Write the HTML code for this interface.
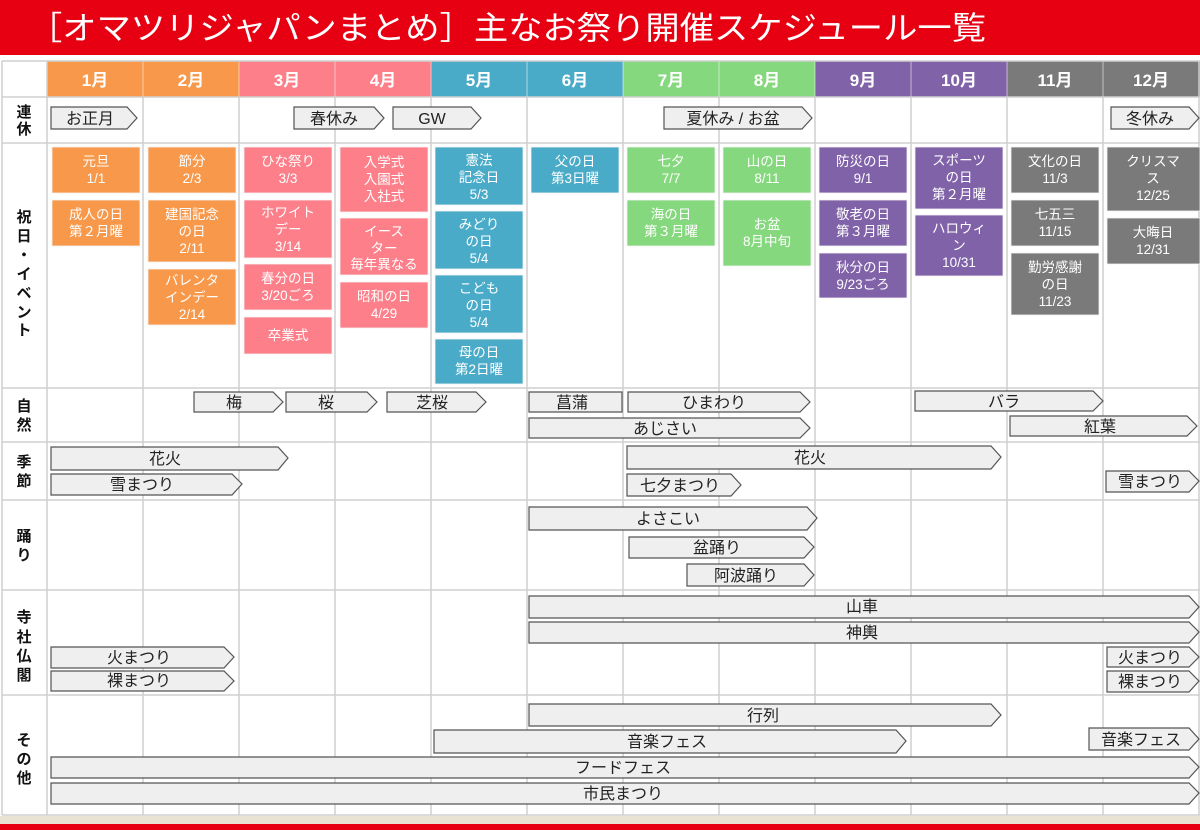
<!DOCTYPE html>
<html><head><meta charset="utf-8"><style>
html,body{margin:0;padding:0;background:#fff;width:1200px;height:830px;overflow:hidden}
svg{display:block;font-family:"Liberation Sans","Noto Sans CJK JP",sans-serif}
.bx{stroke:#f3f3f3;stroke-width:0.8}
.bt{fill:#fff;font-size:13.5px;text-anchor:middle}
.ar{fill:#efefef;stroke:#555;stroke-width:1.2}
.at{fill:#222;font-size:16px;text-anchor:middle}
.mh{fill:#fff;font-size:17px;font-weight:bold;text-anchor:middle}
.rl{fill:#111;font-size:15px;font-weight:bold;text-anchor:middle}
.g{stroke:#cfcfcf;stroke-width:1.5}
</style></head><body>
<svg width="1200" height="830" viewBox="0 0 1200 830">
<rect x="0" y="0" width="1200" height="55" fill="#e60012"/>
<text x="28" y="39" fill="#fff" font-size="32" textLength="958" lengthAdjust="spacingAndGlyphs">［オマツリジャパンまとめ］主なお祭り開催スケジュール一覧</text>
<rect x="0" y="55" width="1200" height="6" fill="#fff"/>
<!-- header -->
<rect x="47" y="61" width="192" height="36" fill="#f7984a"/>
<rect x="239" y="61" width="192" height="36" fill="#fc7f8a"/>
<rect x="431" y="61" width="192" height="36" fill="#4aabc8"/>
<rect x="623" y="61" width="192" height="36" fill="#86d87e"/>
<rect x="815" y="61" width="192" height="36" fill="#8062a8"/>
<rect x="1007" y="61" width="193" height="36" fill="#7a7a7a"/>
<g stroke="#ffffff" stroke-opacity=".45" stroke-width="1.2">
<line x1="143" y1="61" x2="143" y2="97"/><line x1="239" y1="61" x2="239" y2="97"/><line x1="335" y1="61" x2="335" y2="97"/><line x1="431" y1="61" x2="431" y2="97"/><line x1="527" y1="61" x2="527" y2="97"/><line x1="623" y1="61" x2="623" y2="97"/><line x1="719" y1="61" x2="719" y2="97"/><line x1="815" y1="61" x2="815" y2="97"/><line x1="911" y1="61" x2="911" y2="97"/><line x1="1007" y1="61" x2="1007" y2="97"/><line x1="1103" y1="61" x2="1103" y2="97"/>
</g>
<text class="mh" x="95" y="86">1月</text><text class="mh" x="191" y="86">2月</text><text class="mh" x="287" y="86">3月</text><text class="mh" x="383" y="86">4月</text><text class="mh" x="479" y="86">5月</text><text class="mh" x="575" y="86">6月</text><text class="mh" x="671" y="86">7月</text><text class="mh" x="767" y="86">8月</text><text class="mh" x="863" y="86">9月</text><text class="mh" x="959" y="86">10月</text><text class="mh" x="1055" y="86">11月</text><text class="mh" x="1151" y="86">12月</text>
<!-- grid -->
<g class="g">
<line x1="2" y1="61" x2="1200" y2="61"/><line x1="2" y1="97" x2="1200" y2="97"/><line x1="2" y1="143" x2="1200" y2="143"/><line x1="2" y1="388" x2="1200" y2="388"/><line x1="2" y1="442" x2="1200" y2="442"/><line x1="2" y1="500" x2="1200" y2="500"/><line x1="2" y1="590" x2="1200" y2="590"/><line x1="2" y1="695" x2="1200" y2="695"/><line x1="2" y1="815" x2="1200" y2="815"/>
<line x1="2" y1="61" x2="2" y2="815"/><line x1="47" y1="61" x2="47" y2="815"/><line x1="143" y1="97" x2="143" y2="815"/><line x1="239" y1="97" x2="239" y2="815"/><line x1="335" y1="97" x2="335" y2="815"/><line x1="431" y1="97" x2="431" y2="815"/><line x1="527" y1="97" x2="527" y2="815"/><line x1="623" y1="97" x2="623" y2="815"/><line x1="719" y1="97" x2="719" y2="815"/><line x1="815" y1="97" x2="815" y2="815"/><line x1="911" y1="97" x2="911" y2="815"/><line x1="1007" y1="97" x2="1007" y2="815"/><line x1="1103" y1="97" x2="1103" y2="815"/><line x1="1199" y1="61" x2="1199" y2="815"/>
</g>
<!-- row labels -->
<text class="rl" x="24" y="117">連</text><text class="rl" x="24" y="134">休</text>
<text class="rl" x="24" y="222">祝</text><text class="rl" x="24" y="241">日</text><text class="rl" x="24" y="260">・</text><text class="rl" x="24" y="279">イ</text><text class="rl" x="24" y="298">ベ</text><text class="rl" x="24" y="317">ン</text><text class="rl" x="24" y="335">ト</text>
<text class="rl" x="24" y="411">自</text><text class="rl" x="24" y="430">然</text>
<text class="rl" x="24" y="467">季</text><text class="rl" x="24" y="486">節</text>
<text class="rl" x="24" y="541">踊</text><text class="rl" x="24" y="560">り</text>
<text class="rl" x="24" y="622">寺</text><text class="rl" x="24" y="642">社</text><text class="rl" x="24" y="661">仏</text><text class="rl" x="24" y="680">閣</text>
<text class="rl" x="24" y="745">そ</text><text class="rl" x="24" y="764">の</text><text class="rl" x="24" y="783">他</text>
<!-- event boxes -->
<g fill="#f7984a" class="bx"><rect x="52" y="147" width="88" height="46"/><rect x="52" y="200" width="88" height="46"/><rect x="148" y="147" width="88" height="46"/><rect x="148" y="200" width="88" height="62"/><rect x="148" y="269" width="88" height="56"/></g>
<g fill="#fc7f8a" class="bx"><rect x="244" y="147" width="88" height="46"/><rect x="244" y="200" width="88" height="58"/><rect x="244" y="264" width="88" height="46"/><rect x="244" y="317" width="88" height="37"/><rect x="340" y="147" width="88" height="65"/><rect x="340" y="218" width="88" height="57"/><rect x="340" y="282" width="88" height="46"/></g>
<g fill="#4aabc8" class="bx"><rect x="435" y="147" width="88" height="58"/><rect x="435" y="211" width="88" height="58"/><rect x="435" y="275" width="88" height="58"/><rect x="435" y="339" width="88" height="45"/><rect x="531" y="147" width="88" height="46"/></g>
<g fill="#86d87e" class="bx"><rect x="627" y="147" width="88" height="46"/><rect x="627" y="200" width="88" height="46"/><rect x="723" y="147" width="88" height="46"/><rect x="723" y="200" width="88" height="66"/></g>
<g fill="#8062a8" class="bx"><rect x="819" y="147" width="88" height="46"/><rect x="819" y="200" width="88" height="46"/><rect x="819" y="253" width="88" height="45"/><rect x="915" y="147" width="88" height="62"/><rect x="915" y="215" width="88" height="61"/></g>
<g fill="#7a7a7a" class="bx"><rect x="1011" y="147" width="88" height="46"/><rect x="1011" y="200" width="88" height="46"/><rect x="1011" y="253" width="88" height="62"/><rect x="1107" y="147" width="93" height="64"/><rect x="1107" y="218" width="93" height="46"/></g>
<g class="bt">
<text x="96" y="166">元旦</text><text x="96" y="183">1/1</text>
<text x="96" y="219">成人の日</text><text x="96" y="236">第２月曜</text>
<text x="192" y="166">節分</text><text x="192" y="183">2/3</text>
<text x="192" y="219">建国記念</text><text x="192" y="236">の日</text><text x="192" y="253">2/11</text>
<text x="192" y="285">バレンタ</text><text x="192" y="302">インデー</text><text x="192" y="319">2/14</text>
<text x="288" y="166">ひな祭り</text><text x="288" y="183">3/3</text>
<text x="288" y="217">ホワイト</text><text x="288" y="234">デー</text><text x="288" y="251">3/14</text>
<text x="288" y="283">春分の日</text><text x="288" y="300">3/20ごろ</text>
<text x="288" y="340">卒業式</text>
<text x="384" y="167">入学式</text><text x="384" y="184">入園式</text><text x="384" y="201">入社式</text>
<text x="384" y="236">イース</text><text x="384" y="253">ター</text><text x="384" y="269">毎年異なる</text>
<text x="384" y="301">昭和の日</text><text x="384" y="318">4/29</text>
<text x="479" y="165">憲法</text><text x="479" y="182">記念日</text><text x="479" y="199">5/3</text>
<text x="479" y="229">みどり</text><text x="479" y="246">の日</text><text x="479" y="263">5/4</text>
<text x="479" y="293">こども</text><text x="479" y="310">の日</text><text x="479" y="327">5/4</text>
<text x="479" y="357">母の日</text><text x="479" y="374">第2日曜</text>
<text x="575" y="166">父の日</text><text x="575" y="183">第3日曜</text>
<text x="671" y="166">七夕</text><text x="671" y="183">7/7</text>
<text x="671" y="219">海の日</text><text x="671" y="236">第３月曜</text>
<text x="767" y="166">山の日</text><text x="767" y="183">8/11</text>
<text x="767" y="229">お盆</text><text x="767" y="246">8月中旬</text>
<text x="863" y="166">防災の日</text><text x="863" y="183">9/1</text>
<text x="863" y="219">敬老の日</text><text x="863" y="236">第３月曜</text>
<text x="863" y="272">秋分の日</text><text x="863" y="289">9/23ごろ</text>
<text x="959" y="165">スポーツ</text><text x="959" y="182">の日</text><text x="959" y="199">第２月曜</text>
<text x="959" y="233">ハロウィ</text><text x="959" y="250">ン</text><text x="959" y="267">10/31</text>
<text x="1055" y="166">文化の日</text><text x="1055" y="183">11/3</text>
<text x="1055" y="219">七五三</text><text x="1055" y="236">11/15</text>
<text x="1055" y="272">勤労感謝</text><text x="1055" y="289">の日</text><text x="1055" y="306">11/23</text>
<text x="1153" y="166">クリスマ</text><text x="1153" y="183">ス</text><text x="1153" y="200">12/25</text>
<text x="1153" y="237">大晦日</text><text x="1153" y="254">12/31</text>
</g>
<!-- arrows -->
<g class="ar">
<polygon points="51,107 127,107 137,118 127,129 51,129"/>
<polygon points="294,107 374,107 384,118 374,129 294,129"/>
<polygon points="393,107 471,107 481,118 471,129 393,129"/>
<polygon points="664,107 802,107 812,118 802,129 664,129"/>
<polygon points="1111,107 1189,107 1199,118 1189,129 1111,129"/>
<polygon points="194,392 273,392 283,402 273,412 194,412"/>
<polygon points="286,392 367,392 377,402 367,412 286,412"/>
<polygon points="387,392 476,392 486,402 476,412 387,412"/>
<polygon points="529,392 622,392 622,412 529,412"/>
<polygon points="628,392 800,392 810,402 800,412 628,412"/>
<polygon points="529,418 800,418 810,428 800,438 529,438"/>
<polygon points="915,391 1093,391 1103,401 1093,411 915,411"/>
<polygon points="1010,416 1187,416 1197,426 1187,436 1010,436"/>
<polygon points="51,447 278,447 288,458 278,470 51,470"/>
<polygon points="51,474 232,474 242,484 232,495 51,495"/>
<polygon points="627,446 991,446 1001,457 991,469 627,469"/>
<polygon points="627,474 731,474 741,485 731,496 627,496"/>
<polygon points="1106,471 1189,471 1199,481 1189,492 1106,492"/>
<polygon points="529,507 807,507 817,518 807,530 529,530"/>
<polygon points="629,537 804,537 814,547 804,558 629,558"/>
<polygon points="687,564 804,564 814,575 804,586 687,586"/>
<polygon points="529,596 1189,596 1199,607 1189,618 529,618"/>
<polygon points="529,622 1189,622 1199,632 1189,643 529,643"/>
<polygon points="51,647 224,647 234,657 224,668 51,668"/>
<polygon points="51,671 224,671 234,681 224,691 51,691"/>
<polygon points="1107,647 1189,647 1199,657 1189,667 1107,667"/>
<polygon points="1107,671 1189,671 1199,681 1189,692 1107,692"/>
<polygon points="529,704 991,704 1001,715 991,726 529,726"/>
<polygon points="434,730 896,730 906,741 896,753 434,753"/>
<polygon points="1089,728 1189,728 1199,739 1189,750 1089,750"/>
<polygon points="51,757 1189,757 1199,767 1189,778 51,778"/>
<polygon points="51,783 1189,783 1199,793 1189,804 51,804"/>
</g>
<g class="at">
<text x="90" y="124">お正月</text>
<text x="334" y="124">春休み</text>
<text x="432" y="124">GW</text>
<text x="733" y="124">夏休み / お盆</text>
<text x="1150" y="124">冬休み</text>
<text x="234" y="408">梅</text>
<text x="326" y="408">桜</text>
<text x="432" y="408">芝桜</text>
<text x="572" y="408">菖蒲</text>
<text x="714" y="408">ひまわり</text>
<text x="665" y="434">あじさい</text>
<text x="1004" y="407">バラ</text>
<text x="1100" y="432">紅葉</text>
<text x="165" y="464">花火</text>
<text x="142" y="490">雪まつり</text>
<text x="810" y="463">花火</text>
<text x="680" y="491">七夕まつり</text>
<text x="1150" y="487">雪まつり</text>
<text x="668" y="524">よさこい</text>
<text x="717" y="553">盆踊り</text>
<text x="746" y="581">阿波踊り</text>
<text x="862" y="612">山車</text>
<text x="862" y="638">神輿</text>
<text x="139" y="663">火まつり</text>
<text x="139" y="686">裸まつり</text>
<text x="1150" y="663">火まつり</text>
<text x="1150" y="687">裸まつり</text>
<text x="763" y="721">行列</text>
<text x="667" y="747">音楽フェス</text>
<text x="1141" y="745">音楽フェス</text>
<text x="623" y="773">フードフェス</text>
<text x="623" y="799">市民まつり</text>
</g>
<!-- bottom -->
<rect x="0" y="816" width="1200" height="8" fill="#e8e3d3"/>
<rect x="0" y="824" width="1200" height="6" fill="#e60012"/>
</svg>
</body></html>
